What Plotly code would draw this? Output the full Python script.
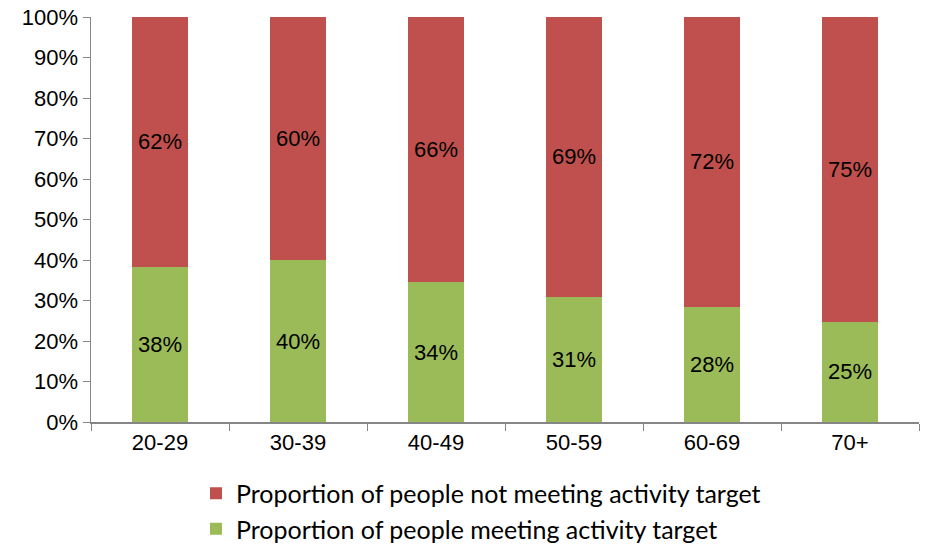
import plotly.graph_objects as go

categories = ["20-29", "30-39", "40-49", "50-59", "60-69", "70+"]
meeting = [38.3, 40.0, 34.5, 30.9, 28.4, 24.7]
not_meeting = [61.7, 60.0, 65.5, 69.1, 71.6, 75.3]
meeting_labels = ["38%", "40%", "34%", "31%", "28%", "25%"]
not_meeting_labels = ["62%", "60%", "66%", "69%", "72%", "75%"]
y_ticks = [0, 10, 20, 30, 40, 50, 60, 70, 80, 90, 100]
y_tick_labels = [f"{v}%" for v in y_ticks]

label_font = dict(family="Liberation Sans, Arial", size=22, color="black")
tick_font = dict(family="Liberation Sans, Arial", size=22, color="black")

fig = go.Figure()
fig.add_trace(go.Bar(
    x=categories, y=meeting, name="Proportion of people meeting activity target",
    marker=dict(color="#9BBB59", line=dict(width=0)),
    text=meeting_labels, textposition="inside", insidetextanchor="middle",
    textfont=label_font, textangle=0, hoverinfo="skip",
))
fig.add_trace(go.Bar(
    x=categories, y=not_meeting, name="Proportion of people not meeting activity target",
    marker=dict(color="#C0504D", line=dict(width=0)),
    text=not_meeting_labels, textposition="inside", insidetextanchor="middle",
    textfont=label_font, textangle=0, hoverinfo="skip",
))

fig.update_layout(
    barmode="stack",
    bargap=0.595,
    width=928, height=545,
    margin=dict(l=91, r=9, t=17, b=123, autoexpand=False),
    paper_bgcolor="white", plot_bgcolor="white",
    uniformtext=dict(mode=False),
    showlegend=True,
    legend=dict(
        traceorder="reversed",
        orientation="v",
        x=0.1268, xanchor="left",
        y=-0.12, yanchor="top",
        font=dict(family="Lato, Calibri, sans-serif", size=25, color="black"),
        itemwidth=30,
        tracegroupgap=0,
        bgcolor="rgba(0,0,0,0)",
    ),
    xaxis=dict(
        type="category", automargin=False,
        showline=True, linecolor="#868686", linewidth=1.5,
        ticks="outside", tickson="boundaries", ticklen=7, tickcolor="#868686",
        showgrid=False,
        tickfont=tick_font, ticklabeloverflow="allow",
        range=[-0.5, 5.5],
    ),
    yaxis=dict(
        range=[0, 100], automargin=False,
        tickvals=y_ticks, ticktext=y_tick_labels,
        showline=True, linecolor="#868686", linewidth=1.5,
        ticks="outside", ticklen=7, tickcolor="#868686",
        showgrid=False, zeroline=False,
        tickfont=tick_font, ticklabeloverflow="allow",
    ),
)

fig.write_html(
    "out.html",
    config={"displayModeBar": False, "staticPlot": True},
    post_script="document.body.style.margin='0';document.body.style.overflow='hidden';",
)
